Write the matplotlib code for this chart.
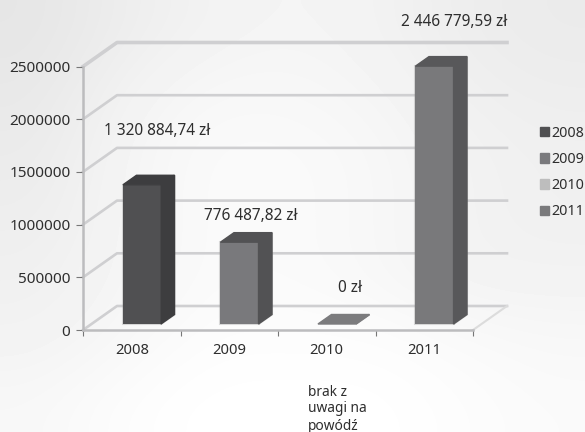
import numpy as np
import matplotlib
matplotlib.use("Agg")
import matplotlib.pyplot as plt
import matplotlib.patheffects as pe
from matplotlib.patches import Patch, Polygon

years = ["2008", "2009", "2010", "2011"]
amounts = [1320884.74, 776487.82, 0, 2446779.59]
amount_labels = ["1 320 884,74 zł", "776 487,82 zł", "0 zł", "2 446 779,59 zł"]
y_ticks = [0, 500000, 1000000, 1500000, 2000000, 2500000]
front_colors = ["#505052", "#79797c", "#bcbcbc", "#79797b"]
dark_colors = ["#3d3d3f", "#525254", "#7c7c7e", "#58585a"]
legend_colors = ["#505052", "#7a7a7d", "#bdbdbd", "#7a7a7c"]

# rough grey levels of the backdrop, top to bottom
backdrop = [[0.90, 0.93, 0.95, 0.96, 0.95, 0.93, 0.92],
            [0.91, 0.95, 0.97, 0.97, 0.96, 0.94, 0.93],
            [0.92, 0.96, 0.98, 0.98, 0.97, 0.95, 0.94],
            [0.93, 0.96, 0.98, 0.98, 0.97, 0.95, 0.94],
            [0.94, 0.96, 0.98, 0.98, 0.97, 0.95, 0.95],
            [0.95, 0.97, 0.99, 0.99, 0.99, 0.98, 0.97],
            [0.97, 0.99, 1.00, 1.00, 1.00, 0.99, 0.98]]

plt.rcParams['font.family'] = ['Noto Sans', 'DejaVu Sans']
W, H = 585, 432
TXT = "#2e2e2e"
GRID = "#cfcfd1"


def px(x, y):
    return x / W, 1 - y / H


fig = plt.figure(figsize=(W / 100, H / 100), dpi=100)

bg = fig.add_axes([0, 0, 1, 1], zorder=0)
bg.imshow(backdrop, cmap="gray", vmin=0, vmax=1, aspect="auto", interpolation="bicubic")
bg.axis("off")

ax = fig.add_axes([83 / W, 1 - 330 / H, 390 / W, 263.5 / H], zorder=1)
ax.patch.set_alpha(0)
ax.set_xlim(0, 4)
ax.set_ylim(0, 2500000)

# depth of the fake 3d box, in data units
wall_dx = 34 / 97.5
wall_dy = 24 / 263.5 * 2500000
bar_dx = 13.5 / 97.5
bar_dy = 9.5 / 263.5 * 2500000
base_y = 6 / 263.5 * 2500000

soft = [pe.withStroke(linewidth=1.5, foreground="#888888", alpha=0.3)]

for v in y_ticks:
    lw = 2.6 if v == 2500000 else 1.9
    ax.plot([0, wall_dx, 4 + wall_dx], [v, v + wall_dy, v + wall_dy],
            color=GRID, lw=lw, clip_on=False, solid_joinstyle="round", zorder=1)
ax.plot([4, 4 + wall_dx], [0, wall_dy], color="#dcdcdc", lw=1.5, clip_on=False, zorder=1)

for i, v in enumerate(amounts):
    x0 = i + 0.41
    x1 = i + 0.80
    top = base_y + v
    if v > 0:
        ax.bar(x0, v, width=x1 - x0, bottom=base_y, align="edge", color=front_colors[i],
               clip_on=False, zorder=3, path_effects=soft)
    ax.add_patch(Polygon([[x1, base_y], [x1 + bar_dx, base_y + bar_dy],
                          [x1 + bar_dx, top + bar_dy], [x1, top]],
                         color=dark_colors[i], clip_on=False, zorder=3, path_effects=soft))
    ax.add_patch(Polygon([[x0, top], [x0 + bar_dx, top + bar_dy],
                          [x1 + bar_dx, top + bar_dy], [x1, top]],
                         color=dark_colors[i], clip_on=False, zorder=3))

for s in ["top", "right"]:
    ax.spines[s].set_visible(False)
for s in ["left", "bottom"]:
    ax.spines[s].set_color("#bcbcbe")
    ax.spines[s].set_linewidth(1.8)
ax.spines["left"].set_bounds(0, 2500000)
ax.set_xticks(range(5))
ax.set_xticklabels([])
ax.set_xticks([i + 0.5 for i in range(4)], minor=True)
ax.set_xticklabels(years, minor=True, fontsize=10.6, color=TXT)
ax.tick_params(axis="x", which="minor", length=0, pad=9)
ax.tick_params(axis="x", which="major", length=4, width=0.8, color="#777777")
ax.set_yticks(y_ticks)
ax.set_yticklabels([str(v) for v in y_ticks], fontsize=11, color=TXT)
ax.tick_params(axis="y", length=5, width=0.8, color="#777777", pad=4)

label_pos = [(104, 131), (204, 216), (338, 288), (401, 22)]
for (lx, ly), s in zip(label_pos, amount_labels):
    fx, fy = px(lx, ly)
    fig.text(fx, fy, s, fontsize=11.1, color=TXT, ha="left", va="center", zorder=5)

for ly, s in zip([392, 409, 426], ["brak z", "uwagi na", "powódź"]):
    fx, fy = px(308, ly)
    fig.text(fx, fy, s, fontsize=9.9, color=TXT, ha="left", va="center", zorder=5)

handles = [Patch(color=c, label=y) for c, y in zip(legend_colors, years)]
fig.legend(handles=handles, loc="center left", bbox_to_anchor=px(540, 172.5), frameon=False,
           fontsize=10.3, labelcolor=TXT, handlelength=0.62, handleheight=0.62,
           handletextpad=0.2, labelspacing=0.78, borderpad=0, borderaxespad=0)

fig.savefig("out.png", dpi=100)
